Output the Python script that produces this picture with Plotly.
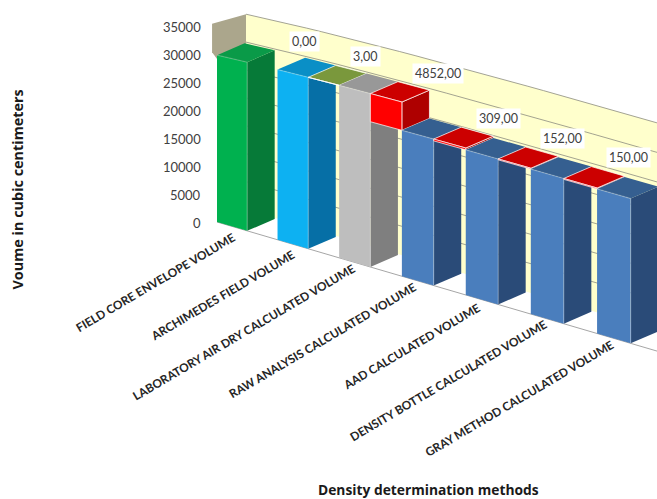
import math
import numpy as np
import plotly.graph_objects as go

# Waterfall of measured core volumes: each method's volume plus the drop to the next one.
categories = [
    "FIELD CORE ENVELOPE VOLUME",
    "ARCHIMEDES FIELD VOLUME",
    "LABORATORY AIR DRY CALCULATED VOLUME",
    "RAW ANALYSIS CALCULATED VOLUME",
    "AAD CALCULATED VOLUME",
    "DENSITY BOTTLE CALCULATED VOLUME",
    "GRAY METHOD CALCULATED VOLUME",
]
volumes = [29900, 29900, 29897, 25045, 24736, 24584, 24434]
differences = [0.0, 3.0, 4852.0, 309.0, 152.0, 150.0]
value_ticks = [0, 5000, 10000, 15000, 20000, 25000, 30000, 35000]

Y_TITLE = "Voume in cubic centimeters"
X_TITLE = "Density determination methods"

# Face colours per bar: front, side, top
GREEN = ("#00B14F", "#067A38", "#0A9A48")
CYAN = ("#0DB1F2", "#066FA6", "#0A8FC6")
GREY = ("#BEBEBE", "#7F7F7F", "#989898")
BLUE = ("#4A7EBD", "#2A4B78", "#355F90")
RED = ("#FF0000", "#AE0000", "#CC0000")
OLIVE = ("#7E9C40", "#6A8535", "#7A983C")
bar_faces = [GREEN, CYAN, GREY, BLUE, BLUE, BLUE, BLUE]
step_faces = [None, OLIVE, RED, RED, RED, RED]

# Oblique view with a slight perspective along the category direction
ORIGIN_X, ORIGIN_Y = 217.0, 222.0
SLOT_DX, SLOT_DY = 30.0, 8.8
DEPTH_DX, DEPTH_DY = 29.0, -12.5
PX_PER_UNIT = 0.00558
PERSPECTIVE = 0.0044
BAR_DEPTH = 0.95

# Page placement of the slanted category labels (centre of each text)
label_centres = [
    (155, 282), (222, 295), (243, 332), (322, 340),
    (411, 346), (448, 380), (519, 398),
]


def project(slot, depth, value):
    """Map (slot along the axis, depth from front, value) to canvas pixels."""
    stretched = slot / (1 - PERSPECTIVE * slot)
    growth = 1 + 0.07 * (1 - math.exp(-slot / 6))
    x = ORIGIN_X + SLOT_DX * stretched + DEPTH_DX * depth
    y = ORIGIN_Y + SLOT_DY * stretched + DEPTH_DY * depth - value * PX_PER_UNIT * growth
    return x, y


fig = go.Figure()


def add_polygon(points, fill, line="rgba(0,0,0,0)", width=0):
    xs, ys = zip(*(project(*p) for p in points))
    fig.add_trace(go.Scatter(
        x=list(xs) + [xs[0]], y=list(ys) + [ys[0]], mode="lines", fill="toself",
        fillcolor=fill, line=dict(color=line, width=width),
        hoverinfo="skip", showlegend=False,
    ))


def add_path(points, color, width=1.0):
    xs, ys = zip(*(project(*p) for p in points))
    fig.add_trace(go.Scatter(
        x=xs, y=ys, mode="lines", line=dict(color=color, width=width),
        hoverinfo="skip", showlegend=False,
    ))


def add_block(slot, low, high, faces, line="rgba(0,0,0,0)", width=0, bevel=False):
    """One box across a slot, from value low up to value high."""
    front, side, top = faces
    end = slot + 1
    d = BAR_DEPTH
    add_polygon([(end, 0, low), (end, d, low), (end, d, high), (end, 0, high)], side, line, width)
    add_polygon([(slot, 0, high), (end, 0, high), (end, d, high), (slot, d, high)], top, line, width)
    add_polygon([(slot, 0, low), (end, 0, low), (end, 0, high), (slot, 0, high)], front, line, width)
    if bevel:
        # Soft highlight along the rounded front edges
        add_path([(slot, 0, high), (end, 0, high), (end, 0, low)], "rgba(255,255,255,0.22)", 1.3)


LAST_SLOT = 15.0
wall_slots = [float(s) for s in np.linspace(0, LAST_SLOT, 31)]
top_value = value_ticks[-1]

# Back wall, side wall and floor edge
add_polygon(
    [(s, 1, 0) for s in wall_slots] + [(s, 1, top_value) for s in reversed(wall_slots)],
    "#FFFFCC",
)
add_polygon(
    [(0, -0.17, 30800), (0, 1, 20000), (0, 1, top_value), (0, -0.17, 35900)],
    "#ABA68C",
)
for v in value_ticks[1:]:
    add_path([(s, 1, v) for s in wall_slots], "#8C8C80", 0.8)
add_path([(s, 0, 0) for s in wall_slots], "#A6A6A6", 1.0)

# Bars and the floating steps between them, left to right so nearer faces overlap
for i, volume in enumerate(volumes):
    slot = 2 * i
    add_block(slot, 0, volume, bar_faces[i], bevel=True)
    if i < len(differences) and step_faces[i] is not None:
        add_block(slot + 1, volume - differences[i], volume, step_faces[i], "#FFFFFF", 0.7)

annotations = []

# Value axis labels follow the front-left edge
for v in value_ticks:
    _, y = project(0, 0, v)
    annotations.append(dict(
        x=203, y=y + 0.5, text=str(v), showarrow=False, xanchor="right", yanchor="middle",
        font=dict(family="Lato", size=13, color="#404040"),
    ))

# Category labels slanted along the view
LABEL_ANGLE = 30.5
for name, (cx, cy) in zip(categories, label_centres):
    annotations.append(dict(
        x=cx, y=cy, text=name, showarrow=False, xanchor="center", yanchor="middle",
        textangle=-LABEL_ANGLE,
        font=dict(family="Lato", size=11.8, color="#262626", weight="bold"),
    ))

# Step values on white plates against the wall
for i, d in enumerate(differences):
    x, y = project(2 * i + 1, 1, volumes[i])
    annotations.append(dict(
        x=x + 13, y=y - 8, text=f"{d:.2f}".replace(".", ","), showarrow=False,
        xanchor="left", yanchor="middle", bgcolor="#FFFFFF", borderpad=2,
        font=dict(family="Lato", size=12.5, color="#404040"),
    ))

# Axis titles
annotations.append(dict(
    x=17, y=189.5, text=Y_TITLE, showarrow=False, textangle=-90,
    xanchor="center", yanchor="middle",
    font=dict(family="Open Sans", size=14.4, color="#1A1A1A", weight="bold"),
))
annotations.append(dict(
    x=428, y=489.5, text=X_TITLE, showarrow=False, xanchor="center", yanchor="middle",
    borderpad=0,
    font=dict(family="Open Sans", size=13.8, color="#1A1A1A", weight="bold"),
))

fig.update_layout(
    width=657, height=499, autosize=False,
    margin=dict(l=0, r=0, t=0, b=0),
    paper_bgcolor="#FFFFFF", plot_bgcolor="#FFFFFF",
    xaxis=dict(range=[0, 657], visible=False, fixedrange=True),
    yaxis=dict(range=[499, 0], visible=False, fixedrange=True),
    annotations=annotations,
)
fig.write_html("out.html", config=dict(displayModeBar=False))
